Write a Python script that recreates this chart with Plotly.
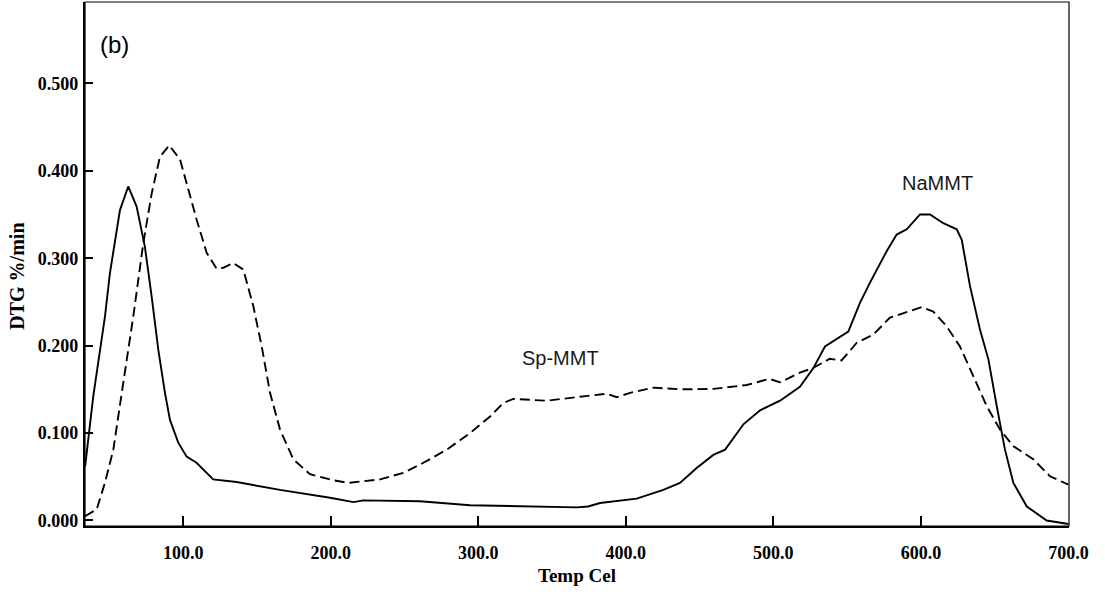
import plotly.graph_objects as go

# NaMMT (solid)
na_T = [33.5, 39, 46.9, 50.3, 57.1, 62.7, 68.4, 74, 78.6, 83.1, 87.6, 91, 96.6, 102.3, 109,
        120.3, 136.2, 165.6, 199.5, 215.4, 222, 260.5, 294.4, 330.6, 366.7, 374.5, 382.5,
        407.4, 425.4, 436.7, 448, 459.3, 467.3, 479.7, 491, 504.5, 518, 527, 535, 550.8,
        558.7, 565.5, 576.8, 583.6, 590.4, 599.4, 606.2, 615.2, 624.3, 627.7, 633.3, 640.1,
        645.8, 651.4, 657, 662.7, 671.8, 685.3, 696.6, 700]
na_y = [0.062, 0.142, 0.233, 0.283, 0.355, 0.382, 0.359, 0.313, 0.256, 0.195, 0.146, 0.115,
        0.089, 0.073, 0.066, 0.047, 0.044, 0.035, 0.026, 0.021, 0.023, 0.022, 0.0175, 0.016,
        0.015, 0.016, 0.020, 0.025, 0.035, 0.043, 0.060, 0.075, 0.081, 0.110, 0.126, 0.137,
        0.153, 0.174, 0.199, 0.216, 0.249, 0.272, 0.308, 0.327, 0.333, 0.350, 0.350, 0.340,
        0.333, 0.321, 0.268, 0.218, 0.184, 0.131, 0.081, 0.043, 0.016, 0.000, -0.003, -0.004]

# Sp-MMT (dashed)
sp_T = [33.4, 41.3, 46.9, 52.6, 59.3, 66.1, 72.9, 78.6, 84.2, 90.5, 97.8, 104.5, 109.1, 115.9,
        122.6, 127.1, 133.9, 140.7, 147.5, 153.2, 158.8, 165.6, 174.6, 185.9, 201.8, 212,
        233.4, 249.2, 262.8, 278.6, 294.4, 308, 317, 323.8, 346.4, 371.3, 387.1, 393.9, 402.9,
        418.8, 436.7, 459.4, 482, 497.3, 504.5, 518, 527, 538.3, 546.2, 556.4, 567.7, 579,
        590.4, 600.5, 608.4, 617.5, 626.5, 635.6, 644.6, 653.6, 662.7, 676.2, 687.5, 700]
sp_y = [0.005, 0.0126, 0.043, 0.081, 0.157, 0.233, 0.317, 0.374, 0.416, 0.429, 0.413, 0.371,
        0.344, 0.306, 0.288, 0.289, 0.2945, 0.287, 0.245, 0.199, 0.146, 0.104, 0.070, 0.053,
        0.046, 0.043, 0.047, 0.0545, 0.066, 0.081, 0.100, 0.119, 0.1345, 0.139, 0.137, 0.142,
        0.145, 0.141, 0.146, 0.152, 0.150, 0.1505, 0.155, 0.162, 0.158, 0.169, 0.1745, 0.185,
        0.183, 0.203, 0.2126, 0.232, 0.238, 0.244, 0.239, 0.222, 0.199, 0.165, 0.131, 0.104,
        0.085, 0.070, 0.0506, 0.041]

x_ticks = [100, 200, 300, 400, 500, 600, 700]
y_ticks = [0.0, 0.1, 0.2, 0.3, 0.4, 0.5]

fig = go.Figure()
fig.add_trace(go.Scatter(x=na_T, y=na_y, mode="lines", name="NaMMT",
                         line=dict(color="black", width=1.9)))
fig.add_trace(go.Scatter(x=sp_T, y=sp_y, mode="lines", name="Sp-MMT",
                         line=dict(color="black", width=1.9, dash="10px,5px")))

serif_bold = dict(family="Liberation Serif", size=18, color="black", weight="bold")

fig.update_layout(
    width=1105, height=597,
    margin=dict(l=85, r=36, t=2, b=71),
    paper_bgcolor="white", plot_bgcolor="white",
    showlegend=False,
    xaxis=dict(range=[33.4, 700.4], tickvals=x_ticks, tickformat=".1f",
               ticks="inside", ticklen=10, tickwidth=1.5, tickcolor="black",
               showline=True, linewidth=2.2, linecolor="black", mirror=False,
               showgrid=False, zeroline=False, tickfont=serif_bold,
               ticklabelstandoff=9),
    yaxis=dict(range=[-0.0063, 0.593], tickvals=y_ticks, tickformat=".3f",
               ticks="inside", ticklen=8, tickwidth=1.5, tickcolor="black",
               showline=True, linewidth=2.2, linecolor="black", mirror=False,
               showgrid=False, zeroline=False, tickfont=serif_bold,
               ticklabelstandoff=1),
    shapes=[dict(type="rect", xref="paper", yref="paper", x0=0, x1=1, y0=0, y1=1,
                 line=dict(color="black", width=1.2), fillcolor="rgba(0,0,0,0)",
                 layer="above")],
)

fig.add_annotation(x=(17 - 85) / 984, y=(526.5 - 277) / 524.5, xref="paper", yref="paper",
                   xanchor="center", yanchor="middle",
                   text="DTG %/min", textangle=-90, showarrow=False,
                   font=dict(family="Liberation Serif", size=20, color="black", weight="bold"))
fig.add_annotation(x=0.5, y=(526.5 - 576) / 524.5, xref="paper", yref="paper",
                   xanchor="center", yanchor="middle",
                   text="Temp Cel", showarrow=False,
                   font=dict(family="Liberation Serif", size=19, color="black", weight="bold"))
fig.add_annotation(x=53.7, y=0.544, text="(b)", showarrow=False,
                   font=dict(family="Liberation Sans", size=24, color="black"))
fig.add_annotation(x=611, y=0.386, text="NaMMT", showarrow=False,
                   font=dict(family="Liberation Sans", size=20, color="#1a1a1a"))
fig.add_annotation(x=356, y=0.186, text="Sp-MMT", showarrow=False,
                   font=dict(family="Liberation Sans", size=20, color="#1a1a1a"))

fig.write_html("out.html", config={"displayModeBar": False},
               post_script="document.body.style.margin='0';document.body.style.padding='0';")
